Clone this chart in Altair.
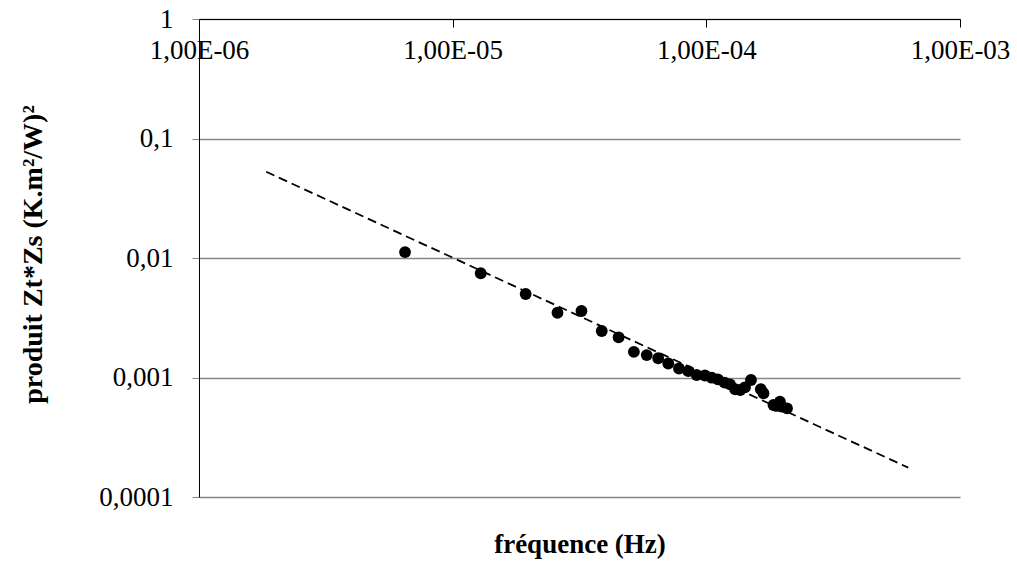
import altair as alt
import pandas as pd

# Measured points: frequency (Hz) and product Zt*Zs
freq = [6.49e-6, 1.29e-5, 1.94e-5, 2.59e-5, 3.22e-5, 3.87e-5, 4.51e-5, 5.18e-5,
        5.82e-5, 6.46e-5, 7.08e-5, 7.80e-5, 8.49e-5, 9.16e-5, 9.87e-5, 1.05e-4,
        1.11e-4, 1.18e-4, 1.24e-4, 1.30e-4, 1.36e-4, 1.42e-4, 1.50e-4, 1.64e-4,
        1.68e-4, 1.84e-4, 1.89e-4, 1.95e-4, 1.98e-4, 2.08e-4]
prod = [0.0112, 0.00745, 0.0050, 0.00348, 0.0036, 0.00245, 0.00217, 0.00164,
        0.00154, 0.00145, 0.00131, 0.00119, 0.00113, 0.00105, 0.00104, 0.000996,
        0.000966, 0.000905, 0.000877, 0.000797, 0.000786, 0.000828, 0.000953, 0.000797,
        0.000738, 0.000589, 0.000578, 0.000627, 0.00057, 0.000552]

# Power-law trend line end points
trend_freq = [1.84e-6, 6.25e-4]
trend_prod = [0.0527, 0.000176]

x_ticks = [1e-6, 1e-5, 1e-4, 1e-3]
x_labels = ["1,00E-06", "1,00E-05", "1,00E-04", "1,00E-03"]
y_ticks = [1e-4, 1e-3, 1e-2, 1e-1, 1]
y_labels = ["0,0001", "0,001", "0,01", "0,1", "1"]

W, H = 761, 478
FONT = "Liberation Serif"

pts = pd.DataFrame({"f": freq, "p": prod})
trend = pd.DataFrame({"f": trend_freq, "p": trend_prod})


def label_expr(labels, first_exp):
    arr = "[" + ",".join(f"'{s}'" for s in labels) + "]"
    return f"{arr}[round(log(datum.value)/LN10)+{-first_exp}]"


x_enc = alt.X(
    "f:Q",
    scale=alt.Scale(type="log", domain=[1e-6, 1e-3], nice=False),
    axis=alt.Axis(
        orient="bottom", offset=-H, values=x_ticks,
        labelExpr=label_expr(x_labels, -6),
        title="fréquence (Hz)",
        titleFontSize=27, titleFontWeight="bold", titleColor="black",
        titleX=W / 2, titleY=H + 47, titleBaseline="middle",
        labelFontSize=27, labelColor="black",
        labelPadding=10, labelFlush=False, labelOverlap=False,
        tickSize=8, tickColor="black", domainColor="black",
        grid=False,
    ),
)

y_enc = alt.Y(
    "p:Q",
    scale=alt.Scale(type="log", domain=[1e-4, 1], nice=False),
    axis=alt.Axis(
        values=y_ticks, labelExpr=label_expr(y_labels, -4),
        title="produit Zt*Zs (K.m²/W)²",
        titleFontSize=28, titleFontWeight="bold", titleColor="black",
        titleX=-166, titleY=H / 2 - 4, titleBaseline="middle", titleAngle=270,
        labelFontSize=27, labelColor="black",
        labelPadding=19, labelFlush=False, labelOverlap=False,
        tickSize=7, tickColor="#868686", domainColor="black",
        grid=True, gridColor="#868686", gridWidth=1.3,
    ),
)

points = alt.Chart(pts).mark_circle(color="black", opacity=1, size=140).encode(x=x_enc, y=y_enc)

line = alt.Chart(trend).mark_line(color="black", strokeWidth=1.8, strokeDash=[9, 5]).encode(
    x="f:Q", y="p:Q"
)

chart = (
    alt.layer(line, points)
    .properties(
        width=W, height=H,
        autosize=alt.AutoSizeParams(type="none"),
        padding={"left": 199, "top": 19, "right": 57, "bottom": 66},
        background="white",
    )
    .configure(font=FONT)
    .configure_axis(labelFont=FONT, titleFont=FONT)
    .configure_view(stroke=None)
)

chart.save("out.html", embed_options={"renderer": "svg", "actions": False})
